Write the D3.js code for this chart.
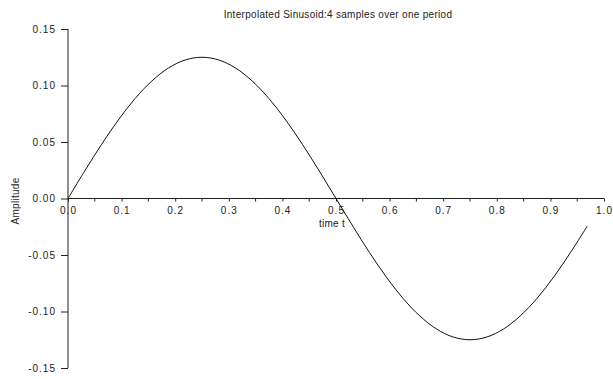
<!DOCTYPE html>
<html>
<head>
<meta charset="utf-8">
<script src="https://cdn.jsdelivr.net/npm/d3@7"></script>
<style>
  html, body { margin: 0; padding: 0; background: #fff; }
  svg text { font-family: "Liberation Sans", Arial, Helvetica, sans-serif; fill: #222; }
</style>
</head>
<body>
<svg id="chart" width="613" height="379"></svg>
<script>
// Interpolated sinusoid samples: time (s) and amplitude
const timeValues = [
  0.00000, 0.03125, 0.06250, 0.09375, 0.12500, 0.15625, 0.18750, 0.21875,
  0.25000, 0.28125, 0.31250, 0.34375, 0.37500, 0.40625, 0.43750, 0.46875,
  0.50000, 0.53125, 0.56250, 0.59375, 0.62500, 0.65625, 0.68750, 0.71875,
  0.75000, 0.78125, 0.81250, 0.84375, 0.87500, 0.90625, 0.93750, 0.96875
];
const amplitudeValues = [
  0.0000, 0.0244, 0.0478, 0.0694, 0.0884, 0.1039, 0.1155, 0.1226,
  0.1250, 0.1226, 0.1155, 0.1039, 0.0884, 0.0694, 0.0478, 0.0244,
  0.0000, -0.0244, -0.0478, -0.0694, -0.0884, -0.1039, -0.1155, -0.1226,
  -0.1250, -0.1226, -0.1155, -0.1039, -0.0884, -0.0694, -0.0478, -0.0244
];
const xTicks = [0, 0.1, 0.2, 0.3, 0.4, 0.5, 0.6, 0.7, 0.8, 0.9, 1.0];
const xMinorTicks = [0.05, 0.15, 0.25, 0.35, 0.45, 0.55, 0.65, 0.75, 0.85, 0.95];
const yTicks = [-0.15, -0.10, -0.05, 0.00, 0.05, 0.10, 0.15];

const titleText = "Interpolated Sinusoid:4 samples over one period";
const xLabel = "time t";
const yLabel = "Amplitude";

const svg = d3.select("#chart");
const x = d3.scaleLinear().domain([0, 1]).range([68, 604]);
const y = d3.scaleLinear().domain([-0.15, 0.15]).range([368, 29]);

const axisColor = "#222";
// plain hyphen-minus for negative tick labels
const fmt = n => d => (d < 0 ? "-" : "") + Math.abs(d).toFixed(n);

// y axis (vertical line at t = 0)
const yAxis = d3.axisLeft(y).tickValues(yTicks).tickFormat(fmt(2)).tickSize(7).tickPadding(5);
const gy = svg.append("g").attr("transform", `translate(${x(0)},0)`).call(yAxis);
gy.select(".domain").attr("stroke", axisColor).attr("d", `M0,${y(0.15)}V${y(-0.15)}`);
gy.selectAll(".tick line").attr("stroke", axisColor);
gy.selectAll(".tick text").attr("font-size", 10).attr("letter-spacing", "1px").style("fill", "#222");

// x axis (horizontal line at amplitude 0)
const xAxis = d3.axisBottom(x).tickValues(xTicks).tickFormat(fmt(1)).tickSize(3).tickPadding(5);
const gx = svg.append("g").attr("transform", `translate(0,${y(0)})`).call(xAxis);
gx.select(".domain").attr("stroke", axisColor).attr("d", `M${x(0)},0H${x(1)}`);
gx.selectAll(".tick line").attr("stroke", axisColor);
gx.selectAll(".tick text").attr("font-size", 10).attr("letter-spacing", "1px").style("fill", "#222");
gx.selectAll(".minor").data(xMinorTicks).enter().append("line")
  .attr("class", "minor")
  .attr("x1", d => x(d)).attr("x2", d => x(d))
  .attr("y1", 0).attr("y2", 3)
  .attr("stroke", axisColor);

// curve
const line = d3.line()
  .x((d, i) => x(timeValues[i]))
  .y(d => y(d))
  .curve(d3.curveCatmullRom);
svg.append("path")
  .datum(amplitudeValues)
  .attr("d", line)
  .attr("fill", "none")
  .attr("stroke", "#111")
  .attr("stroke-width", 1);

// title and axis labels
svg.append("text").attr("x", 338).attr("y", 18).attr("text-anchor", "middle")
  .attr("font-size", 10).attr("letter-spacing", "0.3px").text(titleText);
svg.append("text").attr("x", 332).attr("y", 227).attr("text-anchor", "middle")
  .attr("font-size", 10).attr("letter-spacing", "0.3px").text(xLabel);
svg.append("text").attr("transform", "translate(19,201) rotate(-90)").attr("text-anchor", "middle")
  .attr("font-size", 10).attr("letter-spacing", "0.3px").text(yLabel);
</script>
</body>
</html>
